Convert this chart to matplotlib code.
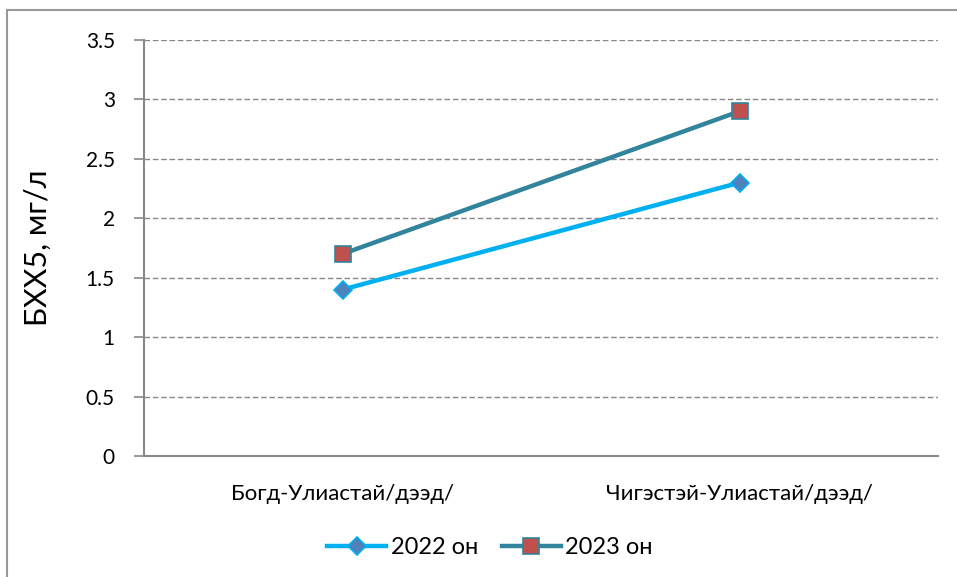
import matplotlib
matplotlib.use("Agg")
import matplotlib.pyplot as plt
from matplotlib.lines import Line2D

plt.rcParams['font.family'] = ['Lato', 'DejaVu Sans']

categories = ["Богд-Улиастай/дээд/", "Чигэстэй-Улиастай/дээд/"]
series_names = ["2022 он", "2023 он"]
values_2022 = [1.4, 2.3]
values_2023 = [1.7, 2.9]
yticks = [0, 0.5, 1, 1.5, 2, 2.5, 3, 3.5]
ytick_labels = ["0", "0.5", "1", "1.5", "2", "2.5", "3", "3.5"]
ylabel = "БХХ5, мг/л"

W, H = 957, 577
fig = plt.figure(figsize=(W/100, H/100), dpi=100)
ax = fig.add_axes([144/W, 1-456/H, (938-144)/W, (456-40)/H])

x = list(range(len(categories)))
ax.plot(x, values_2022, color='#00B0F0', lw=3.2, marker='D', ms=9,
        mfc='#4F81BD', mec='#00B0F0', mew=1.2, label=series_names[0], zorder=3)
ax.plot(x, values_2023, color='#31849B', lw=3.2, marker='s', ms=11,
        mfc='#C0504D', mec='#31849B', mew=1.2, label=series_names[1], zorder=3)

ax.set_xlim(-0.5, 1.5)
ax.set_ylim(0, 3.5)
ax.set_yticks(yticks)
ax.set_yticklabels(ytick_labels, fontsize=15)
ax.set_xticks(x)
ax.set_xticklabels(categories, fontsize=16)
ax.tick_params(axis='x', length=0, pad=20)
ax.tick_params(axis='y', length=7, color='#888888', width=1.2, pad=14)
ax.yaxis.grid(True, color='#888888', linestyle=(0, (4, 2)), linewidth=1)
ax.set_axisbelow(True)
for s in ['top', 'right']:
    ax.spines[s].set_visible(False)
for s in ['left', 'bottom']:
    ax.spines[s].set_color('#888888')
    ax.spines[s].set_linewidth(1.5)
ax.set_ylabel(ylabel, fontsize=22)
ax.yaxis.set_label_coords((52-144)/(938-144), 0.5)

leg = fig.legend(loc='center', bbox_to_anchor=(490/W, 1-548/H), ncol=2, frameon=False,
                 fontsize=17, handlelength=2.5, columnspacing=1.0, handletextpad=0.2)

# outer frame (left and top visible)
fig.add_artist(Line2D([7/W, 7/W], [0, 1-10/H], transform=fig.transFigure, color='#999999', lw=1.5))
fig.add_artist(Line2D([7/W, 1], [1-10/H, 1-10/H], transform=fig.transFigure, color='#999999', lw=1.5))

fig.savefig('out.png', dpi=100)
